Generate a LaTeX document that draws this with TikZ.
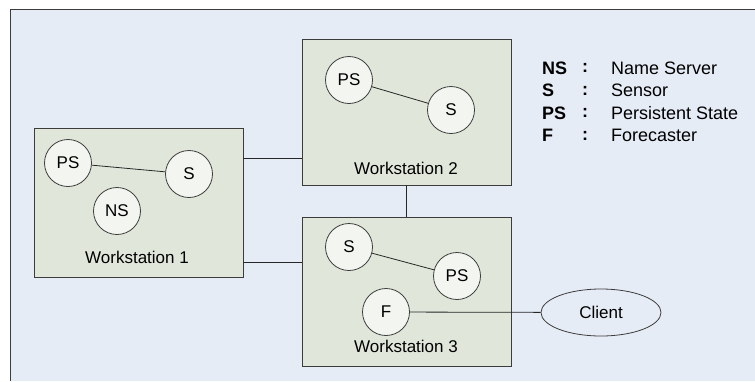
\documentclass[tikz,border=0pt]{standalone}
\usepackage{fontspec}
\usetikzlibrary{shapes.geometric}
\setmainfont{Liberation Sans}
\definecolor{bgblue}{RGB}{230,236,246}
\definecolor{boxfill}{RGB}{224,231,218}
\definecolor{circfill}{RGB}{243,246,240}
\definecolor{edge}{RGB}{60,60,60}
\tikzset{
  wsbox/.style={draw=edge, line width=0.9pt, fill=boxfill, rectangle, minimum width=209pt, minimum height=#1, inner sep=0pt},
  proc/.style={draw=edge, line width=0.8pt, fill=circfill, circle, minimum size=47pt, inner sep=0pt, font=\fontsize{17}{20}\selectfont},
  lbl/.style={font=\fontsize{17}{20}\selectfont, inner sep=0pt},
  leg/.style={font=\fontsize{18}{21}\selectfont, inner sep=0pt, anchor=west},
  conn/.style={draw=black!85, line width=0.8pt}
}
\begin{document}
\begin{tikzpicture}[x=1pt,y=-1pt]
\useasboundingbox (0,0) rectangle (755,381);
\fill[white] (0,0) rectangle (755,381);
\fill[bgblue] (10,9) rectangle (755,381);
\draw[edge, line width=0.9pt] (10,381) -- (10,9) -- (755,9);
% workstations
\node[wsbox=149pt] (ws1) at (138.5,202.5) {};
\node[wsbox=146pt] (ws2) at (406.5,112) {};
\node[wsbox=149pt] (ws3) at (406.5,291.5) {};
\node[lbl] (w1l) at (137,257) {Workstation 1};
\node[lbl] (w2l) at (406,168) {Workstation 2};
\node[lbl] (w3l) at (406,346) {Workstation 3};
% processes
\node[proc] (ps1) at (68,163) {PS};
\node[proc] (s1) at (189,174) {S};
\node[proc] (ns1) at (117,211) {NS};
\node[proc] (ps2) at (349,80) {PS};
\node[proc] (s2) at (451,110) {S};
\node[proc] (s3) at (349,247) {S};
\node[proc] (ps3) at (457,276) {PS};
\node[proc] (f3) at (386,312) {F};
\node[lbl, draw=edge, line width=0.8pt, ellipse, minimum width=120pt, minimum height=47pt, inner sep=0pt] (client) at (601,312.5) {Client};
% connectors
\draw[conn] (ps1) -- (s1);
\draw[conn] (ps2) -- (s2);
\draw[conn] (s3) -- (ps3);
\draw[conn] (f3) -- (client);
\coordinate (r1) at (0,158);
\coordinate (r2) at (0,262);
\draw[conn] (ws1.east |- r1) -- (ws2.west |- r1);
\draw[conn] (ws1.east |- r2) -- (ws3.west |- r2);
\draw[conn] (ws2.south) -- (ws3.north);
% legend
\node[leg] (k1) at (542,68) {\textbf{NS}};
\node[leg] (k2) at (542,90.5) {\textbf{S}};
\node[leg] (k3) at (542,113) {\textbf{PS}};
\node[leg] (k4) at (542,135.5) {\textbf{F}};
\node[leg] (c1) at (582,68) {\textbf{:}};
\node[leg] (c2) at (582,90.5) {\textbf{:}};
\node[leg] (c3) at (582,113) {\textbf{:}};
\node[leg] (c4) at (582,135.5) {\textbf{:}};
\node[leg] (d1) at (611,68) {Name Server};
\node[leg] (d2) at (611,90.5) {Sensor};
\node[leg] (d3) at (611,113) {Persistent State};
\node[leg] (d4) at (611,135.5) {Forecaster};
\end{tikzpicture}
\end{document}
